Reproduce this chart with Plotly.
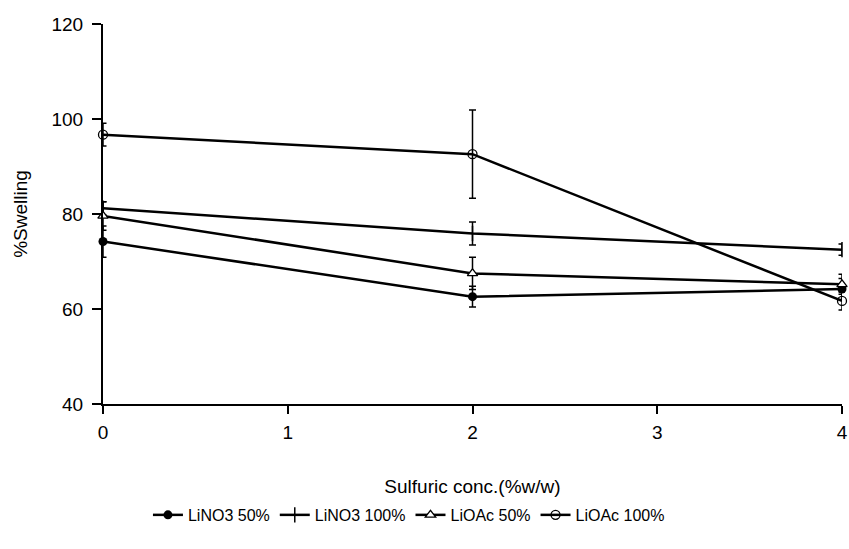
import plotly.graph_objects as go

# Sulfuric acid concentration (%w/w)
conc = [0, 2, 4]

# Mean swelling (%) and standard deviations for each lithium salt loading
lino3_50 = [74.2, 62.6, 64.2]
lino3_50_err = [3.3, 2.2, 2.2]

lino3_100 = [81.2, 75.9, 72.5]
lino3_100_err = [1.4, 2.4, 1.2]

lioac_50 = [79.6, 67.5, 65.2]
lioac_50_err = [3.0, 3.4, 2.1]

lioac_100 = [96.7, 92.6, 61.7]
lioac_100_err = [2.4, 9.3, 1.9]

series = [
    ("LiNO3 50%", lino3_50, lino3_50_err, dict(symbol="circle", size=9, color="black")),
    ("LiNO3 100%", lino3_100, lino3_100_err,
     dict(symbol="line-ns", size=11, color="black", line=dict(color="black", width=1.5))),
    ("LiOAc 50%", lioac_50, lioac_50_err,
     dict(symbol="triangle-up", size=9, color="white", line=dict(color="black", width=1.3))),
    ("LiOAc 100%", lioac_100, lioac_100_err,
     dict(symbol="circle-open", size=9, color="black", line=dict(color="black", width=1.3))),
]

fig = go.Figure()
for name, vals, errs, marker in series:
    fig.add_trace(go.Scatter(
        x=conc, y=vals, name=name, mode="lines+markers",
        line=dict(color="black", width=2.5),
        marker=marker,
        error_y=dict(type="data", array=errs, visible=True,
                     color="black", thickness=1.5, width=3.5),
        cliponaxis=False,
    ))

font_family = "Liberation Sans, Arial, sans-serif"

fig.update_layout(
    width=849, height=549,
    margin=dict(l=103, r=7, t=24, b=145),
    paper_bgcolor="white", plot_bgcolor="white",
    font=dict(family=font_family, size=16, color="black"),
    showlegend=True,
    legend=dict(orientation="h", x=0.414, xanchor="center",
                y=-0.292, yanchor="middle",
                font=dict(size=16), itemwidth=30, tracegroupgap=0),
)

fig.update_xaxes(
    range=[0, 4], tickvals=[0, 1, 2, 3, 4],
    showline=True, linecolor="black", linewidth=2,
    ticks="outside", ticklen=8, tickwidth=2, tickcolor="black",
    tickfont=dict(size=19), ticklabelstandoff=2,
    showgrid=False, zeroline=False, automargin=False,
    title=dict(text="Sulfuric conc.(%w/w)", standoff=38, font=dict(size=19)),
)
fig.update_yaxes(
    range=[40, 120], tickvals=[40, 60, 80, 100, 120],
    showline=True, linecolor="black", linewidth=2,
    ticks="outside", ticklen=9, tickwidth=2, tickcolor="black",
    tickfont=dict(size=19), ticklabelstandoff=5,
    showgrid=False, zeroline=False, automargin=False,
    title=dict(text="%Swelling", standoff=19, font=dict(size=19)),
)

fig.write_html("out.html")
